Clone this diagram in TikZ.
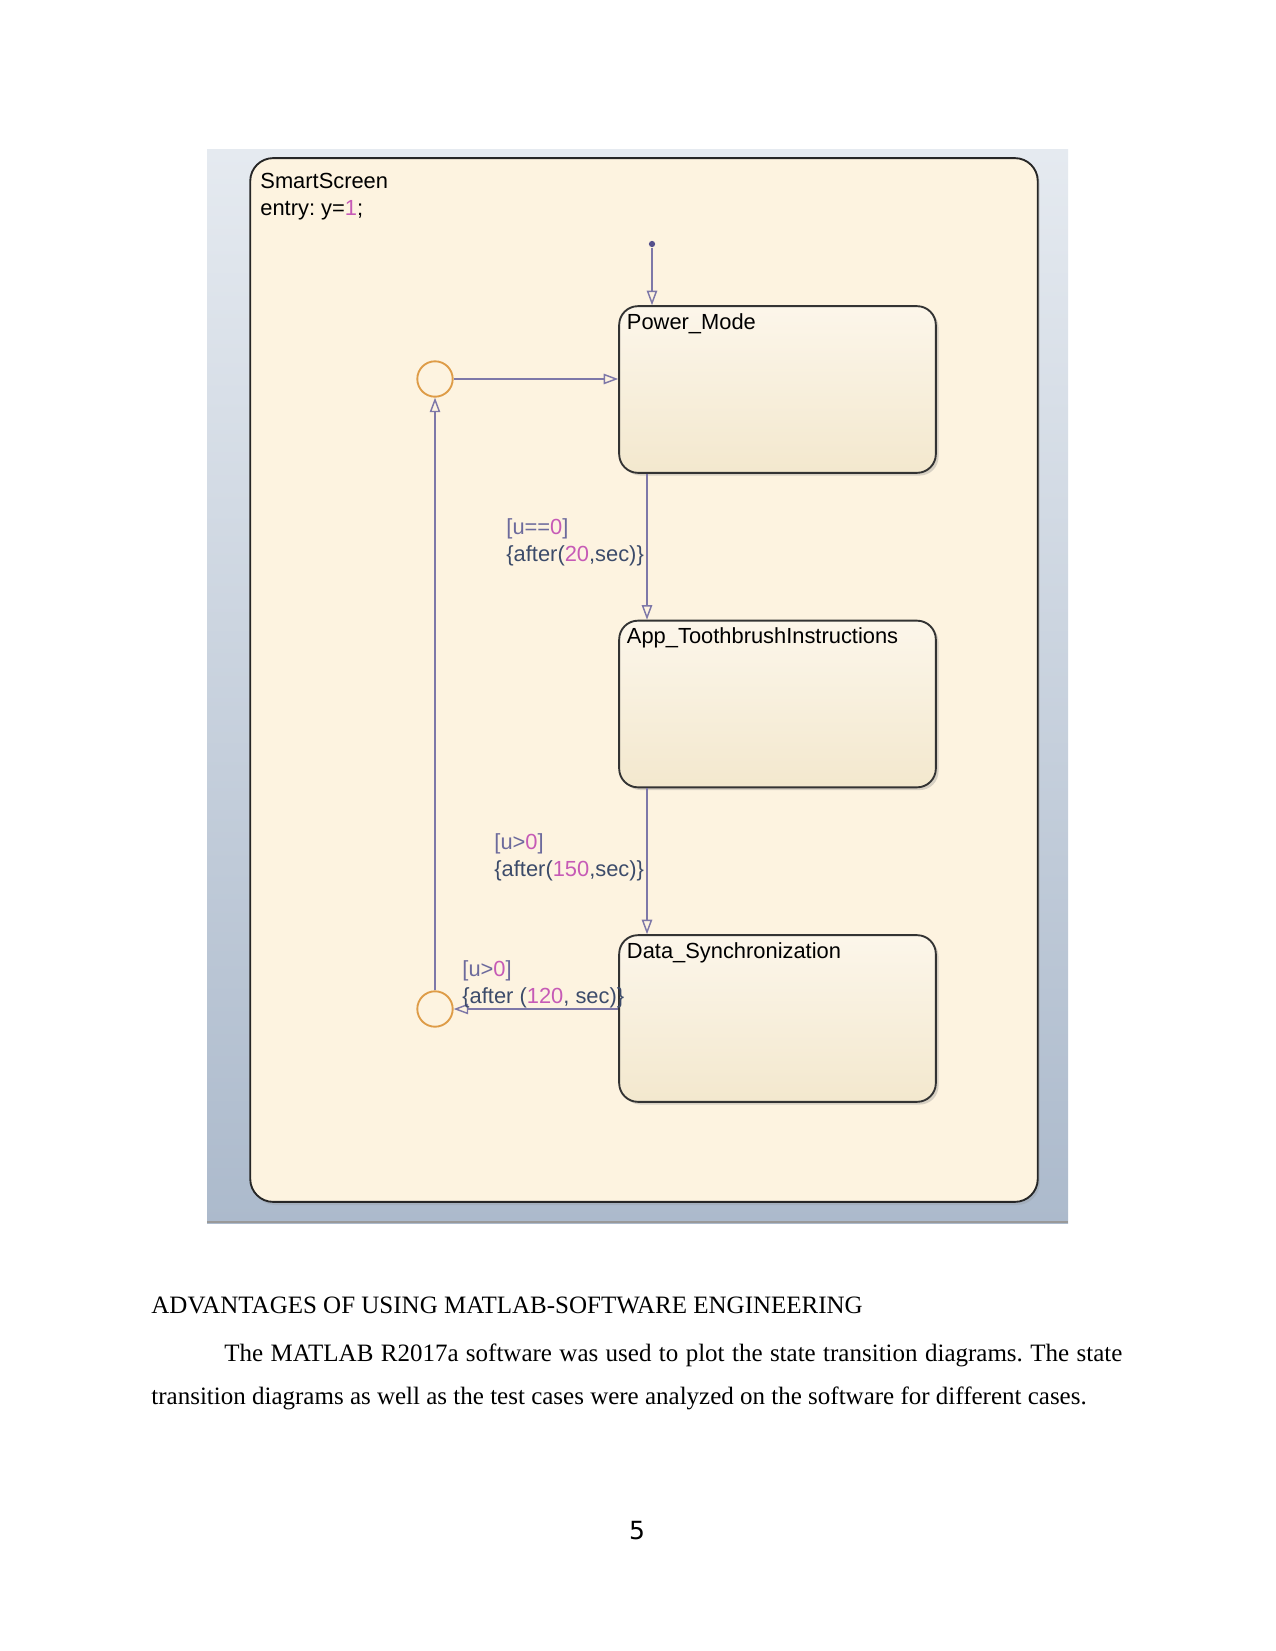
\documentclass[tikz,border=0pt]{standalone}
\usepackage{fontspec}
\setmainfont{Liberation Serif}
\newfontfamily\chartfont{Liberation Sans}
\newfontfamily\pagefont{DejaVu Sans}
\usetikzlibrary{arrows.meta,shadows,positioning}
\frenchspacing
\definecolor{panelTop}{HTML}{E5EAF0}
\definecolor{panelBot}{HTML}{ACBACC}
\definecolor{chartBg}{HTML}{FDF3E0}
\definecolor{stTop}{HTML}{FCF6EA}
\definecolor{stBot}{HTML}{F3E8CE}
\definecolor{trCol}{HTML}{7E78A8}
\definecolor{dotCol}{HTML}{55508C}
\definecolor{juncCol}{HTML}{DE9C48}
\definecolor{grdCol}{HTML}{6C6A9C}
\definecolor{actCol}{HTML}{3C4B6A}
\definecolor{numCol}{HTML}{C65AB6}
\tikzset{
  chartstate/.style={draw=black!80,line width=0.9pt,rounded corners=9pt,top color=stTop,bottom color=stBot,
    minimum width=152pt,minimum height=80pt,inner sep=0,
    drop shadow={shadow xshift=1.3pt,shadow yshift=-1.3pt,opacity=.3}},
  statename/.style={anchor=north west,inner sep=0,font=\chartfont\fontsize{10.5}{13}\selectfont},
  trans/.style={draw=trCol,line width=0.7pt,-{Triangle[open,length=7pt,width=5pt]}},
  junc/.style={circle,draw=juncCol,line width=0.9pt,fill=chartBg,minimum size=17pt,inner sep=0},
  initdot/.style={circle,fill=dotCol,inner sep=0,minimum size=3pt},
  guard/.style={anchor=west,align=left,inner sep=0,font=\chartfont\fontsize{10.5}{13}\selectfont},
  body/.style={anchor=base west,inner sep=0,font=\fontsize{12}{14}\selectfont}
}
\newcommand{\gd}[1]{\textcolor{grdCol}{#1}}
\newcommand{\ac}[1]{\textcolor{actCol}{#1}}
\newcommand{\nm}[1]{\textcolor{numCol}{#1}}
\begin{document}
\begin{tikzpicture}[x=0.48pt,y=-0.48pt]
\useasboundingbox (0,0) rectangle (1275,1651);
\fill[white] (0,0) rectangle (1275,1651);
\shade[top color=panelTop,bottom color=panelBot] (207,150) rectangle (1068,1223);
\draw[gray!80,line width=1pt] (207,1222)--(1068,1222);
\node[draw=black!85,line width=0.9pt,rounded corners=11pt,fill=chartBg,minimum width=378pt,minimum height=501pt,
  drop shadow={shadow xshift=1pt,shadow yshift=-1.5pt,opacity=.2}] (smart) at (644,680) {};
\node[guard] (smartname) at (260,196.5) {SmartScreen\\entry: y=\nm{1};};
\node[chartstate] (power) at (777.5,389.5) {};
\node[chartstate] (app) at (777.5,704) {};
\node[chartstate] (data) at (777.5,1018.5) {};
\node[statename] (powername) at ([xshift=4pt,yshift=-3.8pt]power.north west) {Power\_Mode};
\node[statename] (appname) at ([xshift=4pt,yshift=-3.8pt]app.north west) {App\_ToothbrushInstructions};
\node[statename] (dataname) at ([xshift=4pt,yshift=-3.8pt]data.north west) {Data\_Synchronization};
\node[initdot] (init) at (652,244) {};
\node[junc] (jtop) at (435,379) {};
\node[junc] (jbot) at (435,1009) {};
\coordinate (col) at (647,0);
\draw[trans] (init)--(init|-power.north);
\draw[trans] (jtop)--(jtop-|power.west);
\draw[trans] (power.south-|col)--(app.north-|col);
\draw[trans] (app.south-|col)--(data.north-|col);
\draw[trans] (data.west|-jbot)--(jbot);
\draw[trans] (jbot)--(jtop);
\node[guard] (g1) at (506,542.5) {\gd{[u==}\nm{0}\gd{]}\\\ac{\{after(}\nm{20}\ac{,sec)\}}};
\node[guard] (g2) at (494,857) {\gd{[u>}\nm{0}\gd{]}\\\ac{\{after(}\nm{150}\ac{,sec)\}}};
\node[guard] (g3) at (462,984.5) {\gd{[u>}\nm{0}\gd{]}\\\ac{\{after (}\nm{120}\ac{, sec)\}}};
\node[body] (head) at (151,1313) {ADVANTAGES OF USING MATLAB-SOFTWARE ENGINEERING};
\node[body] (line1) at (224,1361) {\makebox[431pt][s]{The MATLAB R2017a software was used to plot the state transition diagrams. The state}};
\node[body] (line2) at (151,1404) {transition diagrams as well as the test cases were analyzed on the software for different cases.};
\node[inner sep=0,font=\pagefont\fontsize{12}{14}\selectfont] (pagenum) at (637,1531) {5};
\end{tikzpicture}
\end{document}
